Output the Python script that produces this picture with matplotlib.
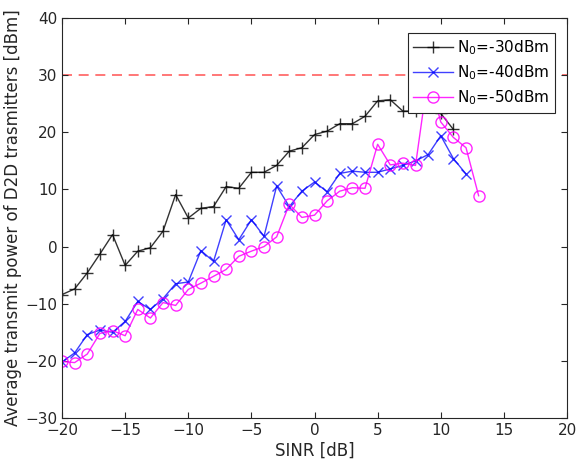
import numpy as np
import matplotlib
matplotlib.use("Agg")
import matplotlib.pyplot as plt

sinr_30 = list(range(-20, 12))
power_30 = [-8.4, -7.4, -4.6, -1.3, 2.1, -3.3, -0.8, -0.2, 2.7, 9.1, 5.0, 6.7, 7.0, 10.5, 10.2, 13.0,
            13.0, 14.2, 16.7, 17.3, 19.6, 20.2, 21.5, 21.5, 22.8, 25.5, 25.7, 23.7, 23.7, 24.8, 23.3, 20.5]

sinr_40 = list(range(-20, 13))
power_40 = [-20.2, -18.6, -15.4, -14.6, -15.0, -13.1, -9.6, -11.0, -9.1, -6.5, -6.2, -0.7, -2.6, 4.7,
            1.2, 4.7, 1.8, 10.6, 7.0, 9.7, 11.3, 9.6, 12.8, 13.2, 13.0, 13.0, 13.6, 14.2, 15.0, 16.1,
            19.4, 15.4, 12.7]

sinr_50 = list(range(-20, 14))
power_50 = [-20.1, -20.3, -18.8, -15.2, -14.7, -15.6, -11.0, -12.5, -9.8, -10.3, -7.5, -6.4, -5.2, -4.0,
            -1.7, -0.8, 0.0, 1.7, 7.4, 5.1, 5.5, 8.0, 9.7, 10.3, 10.2, 17.9, 14.3, 14.6, 14.2, 30.0,
            21.8, 19.1, 17.3, 8.9]

power_limit = 30
labels = ['N$_0$=-30dBm', 'N$_0$=-40dBm', 'N$_0$=-50dBm']

plt.rcParams['font.family'] = ['DejaVu Sans']
fig = plt.figure(figsize=(5.77, 4.70), dpi=100)
ax = fig.add_axes([0.1075, 0.1106, 0.8752, 0.8511])

ax.axhline(power_limit, color='#ff6060', linestyle=(0, (6, 4)), linewidth=1.2, zorder=1)
ax.plot(sinr_30, power_30, color='#000000', marker='+', markersize=8, linewidth=1.0,
        markeredgewidth=1.0, label=labels[0], alpha=0.8)
ax.plot(sinr_40, power_40, color='#0000ff', marker='x', markersize=7, linewidth=1.0,
        markeredgewidth=1.0, label=labels[1], alpha=0.75)
ax.plot(sinr_50, power_50, color='#ff00ff', marker='o', markersize=8, linewidth=1.0,
        markeredgewidth=1.0, markerfacecolor='none', label=labels[2], alpha=0.85)

ax.set_xlim(-20, 20)
ax.set_ylim(-30, 40)
ax.set_xticks(np.arange(-20, 21, 5))
ax.set_yticks(np.arange(-30, 41, 10))
ax.tick_params(direction='in', top=True, right=True, labelsize=11, colors='#262626', length=4)
for s in ax.spines.values():
    s.set_color('#262626')
    s.set_linewidth(0.8)

ax.set_xlabel('SINR [dB]', fontsize=12, color='#262626', labelpad=3)
ax.set_ylabel('Average transmit power of D2D trasmitters [dBm]', fontsize=12, color='#262626', labelpad=2)

leg = ax.legend(loc='upper right', bbox_to_anchor=(0.976, 0.9625), fontsize=11, fancybox=False,
                edgecolor='#262626', framealpha=1, borderaxespad=0.0, handlelength=2.6, numpoints=1,
                labelspacing=0.42, borderpad=0.35, handletextpad=0.3)
leg.get_frame().set_linewidth(0.8)

fig.savefig('out.png', dpi=100)
